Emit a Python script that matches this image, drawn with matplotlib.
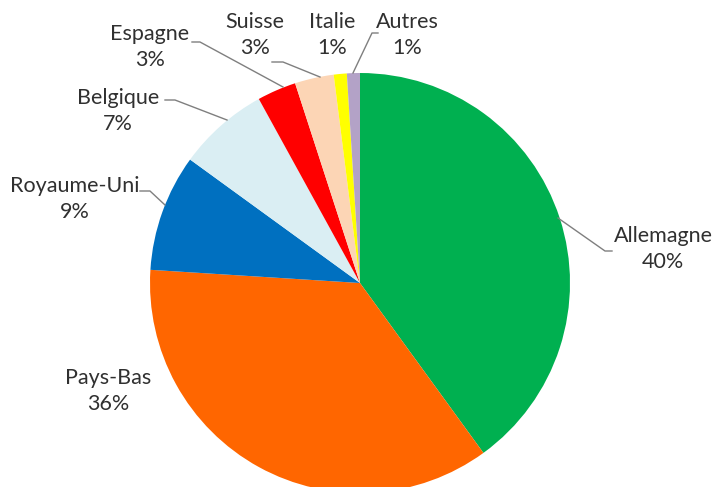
import matplotlib.pyplot as plt

# data
pays = ["Allemagne", "Pays-Bas", "Royaume-Uni", "Belgique", "Espagne", "Suisse", "Italie", "Autres"]
parts = [40, 36, 9, 7, 3, 3, 1, 1]
couleurs = ["#00B050", "#FF6600", "#0070C0", "#DAEEF3", "#FF0000", "#FCD5B5", "#FFFF00", "#B3A2C7"]

# label centres and leader line points, in pixels of the 714x487 picture
label_pos = [(663, 249), (108, 391), (75, 199), (118, 111), (150, 47), (255, 35), (332, 35), (407, 35)]
leaders = [
    [(612, 251), (605, 251), (558, 218)],
    None,
    [(140, 191), (150, 191), (165, 205)],
    [(165, 100), (175, 100), (227, 120)],
    [(192, 42), (200, 42), (283, 87)],
    [(272, 62), (283, 62), (320, 77)],
    None,
    [(378, 33), (372, 33), (353, 73)],
]

CX, CY, R = 360, 283, 210
W, H = 714, 487


def to_data(p):
    return ((p[0] - CX) / R, (CY - p[1]) / R)


fig = plt.figure(figsize=(W / 100, H / 100), dpi=100)
ax = fig.add_axes([(CX - R) / W, (H - CY - R) / H, 2 * R / W, 2 * R / H])
ax.pie(parts, colors=couleurs, startangle=90, counterclock=False,
       wedgeprops=dict(linewidth=0))
ax.set_xlim(-1, 1)
ax.set_ylim(-1, 1)
ax.set_axis_off()

for i, nom in enumerate(pays):
    x, y = to_data(label_pos[i])
    ax.text(x, y, f"{nom}\n{parts[i]}%", ha="center", va="center", fontsize=15.5,
            family="Lato", color="#303030", linespacing=1.4, clip_on=False)
    if leaders[i]:
        pts = [to_data(p) for p in leaders[i]]
        ax.plot([p[0] for p in pts], [p[1] for p in pts], color="#7f7f7f",
                lw=1, clip_on=False)

fig.savefig("out.png", dpi=100)
